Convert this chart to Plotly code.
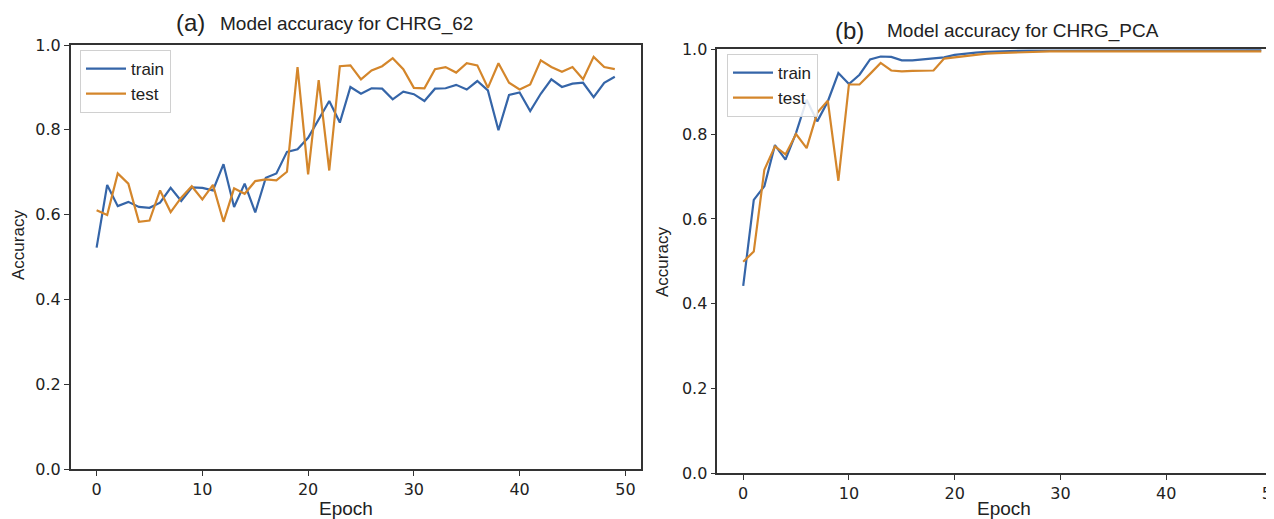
import plotly.graph_objects as go

epochs = list(range(50))

train_62 = [0.522, 0.670, 0.620, 0.630, 0.618, 0.616, 0.628, 0.663, 0.632, 0.664,
            0.663, 0.657, 0.719, 0.618, 0.673, 0.605, 0.687, 0.697, 0.748, 0.754,
            0.781, 0.825, 0.868, 0.817, 0.901, 0.885, 0.898, 0.897, 0.872, 0.890,
            0.884, 0.868, 0.897, 0.898, 0.906, 0.895, 0.915, 0.893, 0.799, 0.882,
            0.888, 0.844, 0.885, 0.919, 0.901, 0.909, 0.911, 0.877, 0.911, 0.925]
test_62 = [0.610, 0.599, 0.697, 0.673, 0.583, 0.586, 0.657, 0.606, 0.640, 0.667,
           0.636, 0.670, 0.583, 0.662, 0.649, 0.679, 0.683, 0.681, 0.701, 0.948,
           0.695, 0.917, 0.704, 0.950, 0.952, 0.919, 0.940, 0.950, 0.969, 0.943,
           0.899, 0.898, 0.943, 0.948, 0.935, 0.957, 0.952, 0.899, 0.957, 0.911,
           0.895, 0.907, 0.964, 0.948, 0.937, 0.948, 0.919, 0.972, 0.948, 0.943]

train_pca = [0.442, 0.645, 0.677, 0.774, 0.740, 0.803, 0.881, 0.830, 0.877, 0.944,
             0.918, 0.940, 0.976, 0.983, 0.982, 0.974, 0.974, 0.976, 0.979, 0.981,
             0.987, 0.990, 0.992, 0.994, 0.995, 0.996, 0.996, 0.997, 0.997, 0.997,
             0.998, 0.998, 0.998, 0.998, 0.998, 0.998, 0.998, 0.998, 0.998, 0.998,
             0.998, 0.998, 0.998, 0.998, 0.998, 0.998, 0.998, 0.998, 0.998, 0.998]
test_pca = [0.499, 0.523, 0.716, 0.771, 0.752, 0.800, 0.767, 0.850, 0.879, 0.690,
            0.917, 0.917, 0.942, 0.968, 0.950, 0.948, 0.949, 0.950, 0.950, 0.978,
            0.981, 0.985, 0.988, 0.990, 0.991, 0.992, 0.993, 0.994, 0.994, 0.995,
            0.995, 0.995, 0.995, 0.995, 0.995, 0.995, 0.995, 0.995, 0.995, 0.995,
            0.995, 0.995, 0.995, 0.995, 0.995, 0.995, 0.995, 0.995, 0.995, 0.995]

series_names = ["train", "test"]
x_ticks = [0, 10, 20, 30, 40, 50]
y_ticks = [0.0, 0.2, 0.4, 0.6, 0.8, 1.0]
y_tick_text = ["0.0", "0.2", "0.4", "0.6", "0.8", "1.0"]

BLUE = "#3565a8"
ORANGE = "#d4862b"
OFF = 8  # page body margin
W, H = 1274 - OFF, 519 - OFF

fig = go.Figure()
fig.add_trace(go.Scatter(x=epochs, y=train_62, name=series_names[0], mode="lines",
                         line=dict(color=BLUE, width=2.2), xaxis="x", yaxis="y", legend="legend"))
fig.add_trace(go.Scatter(x=epochs, y=test_62, name=series_names[1], mode="lines",
                         line=dict(color=ORANGE, width=2.2), xaxis="x", yaxis="y", legend="legend"))
fig.add_trace(go.Scatter(x=epochs, y=train_pca, name=series_names[0], mode="lines",
                         line=dict(color=BLUE, width=2.2), xaxis="x2", yaxis="y2", legend="legend2"))
fig.add_trace(go.Scatter(x=epochs, y=test_pca, name=series_names[1], mode="lines",
                         line=dict(color=ORANGE, width=2.2), xaxis="x2", yaxis="y2", legend="legend2"))

tickfont = dict(family="DejaVu Sans", size=16, color="#222")
common_x = dict(tickvals=x_ticks, ticks="outside", ticklen=5, tickwidth=1.3, tickcolor="#333",
                showline=True, linecolor="#333", linewidth=1.5, mirror=True, automargin=False,
                showgrid=False, zeroline=False, tickfont=tickfont, ticklabeloverflow="allow")
common_y = dict(tickvals=y_ticks, ticktext=y_tick_text, ticks="outside", ticklen=5, tickwidth=1.3,
                tickcolor="#333", showline=True, linecolor="#333", linewidth=1.5, mirror=True,
                automargin=False, showgrid=False, zeroline=False, tickfont=tickfont, range=[0, 1])

def px_x(p):
    return (p - OFF) / W

def px_y(p):
    return 1 - (p - OFF) / H

legend_style = dict(bgcolor="rgba(255,255,255,0.85)", bordercolor="#d0d0d0", borderwidth=1,
                    font=dict(family="Liberation Sans", size=17, color="#222"),
                    xanchor="left", yanchor="top", itemwidth=40, tracegroupgap=0)

fig.update_layout(
    width=W, height=H,
    margin=dict(l=0, r=0, t=0, b=0, autoexpand=False),
    paper_bgcolor="white", plot_bgcolor="white",
    xaxis=dict(domain=[px_x(70.7), px_x(640.7)], range=[-2.45, 51.45], anchor="y", **common_x),
    yaxis=dict(domain=[px_y(469), px_y(45)], anchor="x", **common_y),
    xaxis2=dict(domain=[px_x(717.3), 1.0], range=[-2.45, 50.2], anchor="y2", **common_x),
    yaxis2=dict(domain=[px_y(473.3), px_y(49.3)], anchor="x2", **common_y),
    legend=dict(x=px_x(80), y=px_y(50), **legend_style),
    legend2=dict(x=px_x(727), y=px_y(54), **legend_style),
    showlegend=True,
)

label_font = dict(family="Liberation Sans", color="#222")
annotations = [
    dict(text="(a)", x=px_x(190), y=px_y(22), font=dict(size=24, **label_font)),
    dict(text="Model accuracy for CHRG_62", x=px_x(218), y=px_y(24), xanchor="left",
         font=dict(size=19, **label_font)),
    dict(text="(b)", x=px_x(849), y=px_y(30), font=dict(size=24, **label_font)),
    dict(text="Model accuracy for CHRG_PCA", x=px_x(885), y=px_y(31), xanchor="left",
         font=dict(size=19, **label_font)),
    dict(text="Epoch", x=px_x(346), y=px_y(508), font=dict(size=19, **label_font)),
    dict(text="Epoch", x=px_x(1004), y=px_y(508), font=dict(size=19, **label_font)),
    dict(text="Accuracy", x=px_x(19), y=px_y(245), textangle=-90, font=dict(size=17, **label_font)),
    dict(text="Accuracy", x=px_x(662), y=px_y(262), textangle=-90, font=dict(size=17, **label_font)),
]
for a in annotations:
    a.update(xref="paper", yref="paper", showarrow=False)
    a.setdefault("xanchor", "center")
    a.setdefault("yanchor", "middle")
fig.update_layout(annotations=annotations)

fig.write_html("out.html")
